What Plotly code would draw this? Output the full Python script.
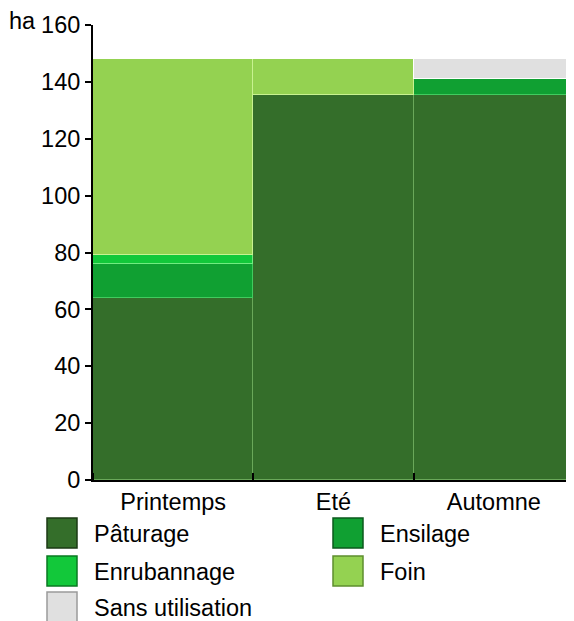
import plotly.graph_objects as go

seasons = ["Printemps", "Eté", "Automne"]
series_names = ["Pâturage", "Ensilage", "Enrubannage", "Foin", "Sans utilisation"]
paturage = [64, 135.5, 135.5]
ensilage = [12, 0, 5.5]
enrubannage = [3, 0, 0]
foin = [69, 12.5, 0]
sans_utilisation = [0, 0, 7]
y_ticks = [0, 20, 40, 60, 80, 100, 120, 140, 160]

values = [paturage, ensilage, enrubannage, foin, sans_utilisation]
fills = ["#346e2a", "#10a032", "#12c83a", "#94d251", "#e0e0e0"]
edges = ["#6aa85a", "#40cc5e", "#70ec80", "#c8f290", "#ffffff"]
legend_edges = ["#1b3a15", "#0a5a1c", "#0a7a22", "#5e8e2e", "#9a9a9a"]

xpos = [i + 0.5 for i in range(len(seasons))]

# page offset (body margin) compensation
OFF = 8
W, H = 574 - OFF, 621 - OFF
L, T, B = 93 - OFF, 25 - OFF, 141
PW = W - L
PH = H - T - B


def px_x(x):
    return (x - OFF - L) / PW


def px_y(y):
    return (H - B - (y - OFF)) / PH


fig = go.Figure()
for name, vals, fc, ec in zip(series_names, values, fills, edges):
    fig.add_trace(go.Bar(
        x=xpos, y=vals, width=1, name=name,
        marker=dict(color=fc, line=dict(color=ec, width=1.5)),
        showlegend=False,
    ))

# manual legend (two columns)
col_x = [47, 333]
row_y = [518, 556, 592]
FS = 23.5
for i, (name, fc, lc) in enumerate(zip(series_names, fills, legend_edges)):
    cx = col_x[i % 2]
    ry = row_y[i // 2]
    fig.add_shape(type="rect", xref="paper", yref="paper",
                  x0=px_x(cx), x1=px_x(cx + 30),
                  y0=px_y(ry), y1=px_y(ry + 30),
                  fillcolor=fc, line=dict(color=lc, width=1.5))
    fig.add_annotation(xref="paper", yref="paper",
                       x=px_x(cx + 45), y=px_y(ry + 16),
                       text=name, showarrow=False, xanchor="left", yanchor="middle",
                       font=dict(size=FS, color="#000000"))

fig.add_annotation(xref="paper", yref="paper", x=px_x(22), y=px_y(21),
                   text="ha", showarrow=False, xanchor="center", yanchor="middle",
                   font=dict(size=FS, color="#000000"))

fig.update_layout(
    width=W, height=H,
    margin=dict(l=L, r=0, t=T, b=B, pad=0),
    barmode="stack", bargap=0,
    plot_bgcolor="white", paper_bgcolor="white",
    font=dict(family="Liberation Sans, Arial, sans-serif", size=FS, color="#000000"),
    xaxis=dict(range=[0, 3], tickvals=xpos, ticktext=seasons, ticks="",
               showline=True, linecolor="#000000", linewidth=2, showgrid=False,
               zeroline=False, tickfont=dict(size=FS),
               minor=dict(tick0=0, dtick=1, ticks="inside", ticklen=7, tickcolor="#000000",
                          tickwidth=2, showgrid=False)),
    yaxis=dict(range=[0, 160], tickvals=y_ticks, ticks="outside", ticklen=6,
               tickwidth=2, tickcolor="#000000", showline=True, linecolor="#000000",
               linewidth=2, showgrid=False, zeroline=False, tickfont=dict(size=FS)),
    showlegend=False,
)

fig.write_html("out.html")
